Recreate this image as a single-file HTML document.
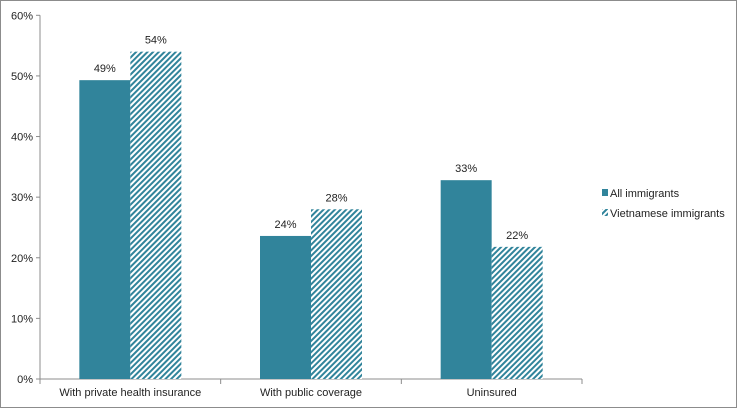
<!DOCTYPE html>
<html><head><meta charset="utf-8"><style>
body{margin:0;background:#fff;}
svg{display:block;font-family:"Liberation Sans",Arial,sans-serif;}
</style></head><body>
<svg id="chart" width="737" height="409" viewBox="0 0 737 409">
<defs>
<pattern id="hatch" patternUnits="userSpaceOnUse" width="4" height="4" patternTransform="rotate(45)">
<rect width="4" height="4" fill="#fff"/>
<rect x="0" y="0" width="2" height="4" fill="#31849b"/>
</pattern>
</defs>
<rect x="0.5" y="0.5" width="736" height="407" fill="#fff" stroke="#8c8c8c"/>
<g id="axes"></g>
<g id="bars"></g>
<g id="legend">
<rect x="602" y="189" width="6" height="7" fill="#31849b"/>
<text x="610" y="197" font-size="11" fill="#222">All immigrants</text>
<rect x="602" y="209" width="6" height="7" fill="url(#hatch)"/>
<text x="610" y="217" font-size="11" fill="#222">Vietnamese immigrants</text>
</g>
</svg>
<script>
const categories=["With private health insurance","With public coverage","Uninsured"];
const allImmigrants=[49.3,23.6,32.8];
const vietnamese=[54,28,21.8];
const allLabels=["49%","24%","33%"];
const vnLabels=["54%","28%","22%"];
const yTicks=[0,10,20,30,40,50,60];
const NS="http://www.w3.org/2000/svg";
const X0=40,X1=582,Y0=379,Y1=15.3;
const y=v=>Y0-(v/60)*(Y0-Y1);
const catW=(X1-X0)/categories.length;
const cx=i=>X0+catW*(i+0.5);
const bw=51;
function mk(tag,attrs,parent){const e=document.createElementNS(NS,tag);for(const k in attrs)e.setAttribute(k,attrs[k]);parent.appendChild(e);return e;}
const axes=document.getElementById('axes'),bars=document.getElementById('bars');
let l=mk('line',{x1:X0,y1:Y1,x2:X0,y2:Y0,stroke:'#8c8c8c'},axes);


l=mk('line',{x1:X0,y1:Y0,x2:X1,y2:Y0,stroke:'#8c8c8c'},axes);


yTicks.forEach(t=>{
 const tk=mk('line',{x1:X0-4,y1:y(t),x2:X0,y2:y(t),stroke:'#8c8c8c'},axes);
 
 
 const tx=mk('text',{x:X0-7,y:y(t)+4,'text-anchor':'end','font-size':'11',fill:'#222'},axes);
 tx.textContent=t+'%';
 
 
});
for(let i=0;i<=categories.length;i++){
 const tk=mk('line',{x1:X0+catW*i,y1:Y0,x2:X0+catW*i,y2:Y0+5,stroke:'#8c8c8c'},axes);
 
 
}
categories.forEach((c,i)=>{
 const tx=mk('text',{x:cx(i),y:396,'text-anchor':'middle','font-size':'11',fill:'#222'},axes);
 tx.textContent=c;
 
 
 const b1=mk('rect',{x:cx(i)-bw,y:y(allImmigrants[i]),width:bw,height:Y0-y(allImmigrants[i]),fill:'#31849b'},bars);
 
 
 const b2=mk('rect',{x:cx(i),y:y(vietnamese[i]),width:bw,height:Y0-y(vietnamese[i]),fill:'url(#hatch)'},bars);
 
 
 const t1=mk('text',{x:cx(i)-bw/2,y:y(allImmigrants[i])-8,'text-anchor':'middle','font-size':'11',fill:'#222'},bars);
 t1.textContent=allLabels[i];
 
 
 const t2=mk('text',{x:cx(i)+bw/2,y:y(vietnamese[i])-8,'text-anchor':'middle','font-size':'11',fill:'#222'},bars);
 t2.textContent=vnLabels[i];
 
 
});
</script>
</body></html>
